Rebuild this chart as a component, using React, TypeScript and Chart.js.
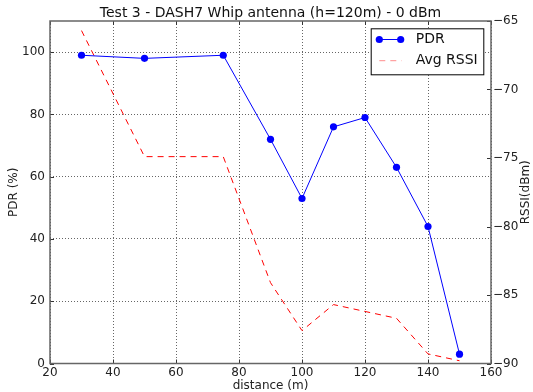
import React, { useEffect, useRef } from "react";
import { Chart, registerables } from "chart.js";

Chart.register(...registerables);

const FONT = "'DejaVu Sans', 'Liberation Sans', sans-serif";

const titleText = "Test 3 - DASH7 Whip antenna (h=120m) - 0 dBm";
const xLabel = "distance (m)";
const leftLabel = "PDR (%)";
const rightLabel = "RSSI(dBm)";
const pdrLegend = "PDR";
const rssiLegend = "Avg RSSI";

const distances = [30, 50, 75, 90, 100, 110, 120, 130, 140, 150];
const pdrValues = [99, 98, 99, 72, 53, 76, 79, 63, 44, 3];
const rssiValues = [-65.7, -74.9, -74.9, -84.1, -87.6, -85.7, -86.2, -86.7, -89.3, -89.8];

const xTickValues = [20, 40, 60, 80, 100, 120, 140, 160];
const pdrTickValues = [0, 20, 40, 60, 80, 100];
const rssiTickValues = [-90, -85, -80, -75, -70, -65];

const fmtMinus = (v: number) => (v < 0 ? "\u2212" + Math.abs(v) : String(v));

const decorPlugin = {
  id: "decor",
  afterDatasetsDraw(chart: any) {
    const { ctx, chartArea: a, scales } = chart;
    ctx.save();
    // inward ticks
    ctx.strokeStyle = "#333";
    ctx.lineWidth = 1;
    ctx.setLineDash([]);
    ctx.beginPath();
    for (const v of xTickValues) {
      const px = Math.round(scales.x.getPixelForValue(v)) + 0.5;
      ctx.moveTo(px, a.bottom);
      ctx.lineTo(px, a.bottom - 4);
      ctx.moveTo(px, a.top);
      ctx.lineTo(px, a.top + 4);
    }
    for (const v of pdrTickValues) {
      const py = Math.round(scales.y.getPixelForValue(v)) + 0.5;
      ctx.moveTo(a.left, py);
      ctx.lineTo(a.left + 4, py);
    }
    for (const v of rssiTickValues) {
      const py = Math.round(scales.y2.getPixelForValue(v)) + 0.5;
      ctx.moveTo(a.right, py);
      ctx.lineTo(a.right - 4, py);
    }
    ctx.stroke();

    // frame
    ctx.strokeStyle = "#666";
    ctx.lineWidth = 1.5;
    ctx.strokeRect(a.left, a.top, a.right - a.left, a.bottom - a.top);

    // legend
    const lx = a.right - 120.3;
    const ly = a.top + 7.3;
    const lw = 112.6;
    const lh = 46;
    ctx.fillStyle = "#fff";
    ctx.fillRect(lx, ly, lw, lh);
    ctx.strokeStyle = "#000";
    ctx.lineWidth = 1;
    ctx.strokeRect(lx + 0.5, ly + 0.5, lw, lh);

    const sx0 = lx + 8.6;
    const sx1 = lx + 30;
    const y1 = ly + 11.2;
    const y2 = ly + 32.4;
    ctx.strokeStyle = "#0000ff";
    ctx.lineWidth = 1;
    ctx.beginPath();
    ctx.moveTo(sx0, y1);
    ctx.lineTo(sx1, y1);
    ctx.stroke();
    ctx.fillStyle = "#0000ff";
    for (const px of [sx0, sx1]) {
      ctx.beginPath();
      ctx.arc(px, y1, 3.6, 0, Math.PI * 2);
      ctx.fill();
    }
    ctx.strokeStyle = "rgba(255,0,0,0.45)";
    ctx.setLineDash([6, 5]);
    ctx.beginPath();
    ctx.moveTo(sx0, y2);
    ctx.lineTo(sx1 + 1, y2);
    ctx.stroke();
    ctx.setLineDash([]);

    ctx.fillStyle = "#111";
    ctx.font = `14px ${FONT}`;
    ctx.textAlign = "left";
    ctx.textBaseline = "middle";
    ctx.fillText(pdrLegend, lx + 45, y1);
    ctx.fillText(rssiLegend, lx + 45, y2);

    // right axis title (bottom-to-top)
    ctx.translate(chart.width - 7, (a.top + a.bottom) / 2);
    ctx.rotate(-Math.PI / 2);
    ctx.font = `12px ${FONT}`;
    ctx.textAlign = "center";
    ctx.textBaseline = "middle";
    ctx.fillStyle = "#222";
    ctx.fillText(rightLabel, 0, 0);
    ctx.restore();
  },
};

export default function App() {
  const ref = useRef<HTMLCanvasElement | null>(null);

  useEffect(() => {
    if (!ref.current) return;
    const tickFont = { family: FONT, size: 12 };
    const chart = new Chart(ref.current, {
      type: "line",
      data: {
        datasets: [
          {
            label: pdrLegend,
            data: distances.map((d, i) => ({ x: d, y: pdrValues[i] })),
            yAxisID: "y",
            borderColor: "#0000ff",
            backgroundColor: "#0000ff",
            borderWidth: 1,
            pointRadius: 3.6,
            pointBorderWidth: 0,
            pointBackgroundColor: "#0000ff",
            tension: 0,
            fill: false,
          },
          {
            label: rssiLegend,
            data: distances.map((d, i) => ({ x: d, y: rssiValues[i] })),
            yAxisID: "y2",
            borderColor: "#ff0000",
            borderWidth: 1,
            borderDash: [6, 5],
            pointRadius: 0,
            tension: 0,
            fill: false,
          },
        ],
      },
      options: {
        responsive: false,
        animation: false,
        devicePixelRatio: 1,
        layout: { padding: 0 },
        plugins: {
          legend: { display: false },
          tooltip: { enabled: false },
          title: {
            display: true,
            text: titleText,
            fullSize: false,
            color: "#111",
            font: { family: FONT, size: 14, weight: "normal", lineHeight: 1 },
            padding: { top: 6, bottom: 1 },
          },
        },
        scales: {
          x: {
            type: "linear",
            position: "bottom",
            min: 20,
            max: 160,
            afterBuildTicks: (s: any) => {
              s.ticks = xTickValues.map((v) => ({ value: v }));
            },
            afterFit: (s: any) => {
              s.height = 28.5;
            },
            ticks: { font: tickFont, color: "#222", padding: 2, maxRotation: 0, autoSkip: false },
            grid: { color: "rgba(0,0,0,0.6)", lineWidth: 1, drawTicks: false },
            border: { display: false, dash: [1, 2] },
            title: {
              display: true,
              text: xLabel,
              color: "#222",
              font: { family: FONT, size: 12, lineHeight: 1 },
              padding: { top: 0, bottom: 0 },
            },
          },
          y: {
            type: "linear",
            position: "left",
            min: 0,
            max: 110,
            afterBuildTicks: (s: any) => {
              s.ticks = pdrTickValues.map((v) => ({ value: v }));
            },
            afterFit: (s: any) => {
              s.width = 50;
            },
            ticks: { font: tickFont, color: "#222", padding: 5 },
            grid: { color: "rgba(0,0,0,0.6)", lineWidth: 1, drawTicks: false },
            border: { display: false, dash: [1, 2] },
            title: {
              display: true,
              text: leftLabel,
              color: "#222",
              font: { family: FONT, size: 12, lineHeight: 1 },
              padding: { top: 8, bottom: 0 },
            },
          },
          y2: {
            type: "linear",
            position: "right",
            min: -90,
            max: -65,
            afterBuildTicks: (s: any) => {
              s.ticks = rssiTickValues.map((v) => ({ value: v }));
            },
            afterFit: (s: any) => {
              s.width = 42;
            },
            ticks: {
              font: tickFont,
              color: "#222",
              padding: 2,
              callback: (v: any) => fmtMinus(Number(v)),
            },
            grid: { display: false, drawTicks: false },
            border: { display: false },
          },
        },
      },
      plugins: [decorPlugin],
    } as any);
    return () => chart.destroy();
  }, []);

  return (
    <div style={{ position: "absolute", left: 0, top: 0, width: 533, height: 392, background: "#fff" }}>
      <canvas ref={ref} width={533} height={392} style={{ display: "block" }} />
    </div>
  );
}
